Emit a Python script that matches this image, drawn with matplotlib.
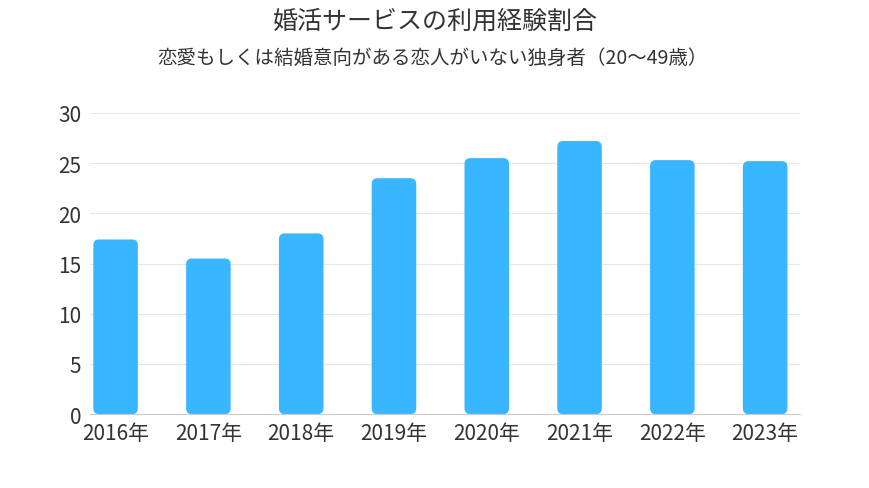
import matplotlib
matplotlib.use("Agg")
import matplotlib.pyplot as plt
from matplotlib.patches import FancyBboxPatch

plt.rcParams['font.family'] = ['Noto Sans CJK JP', 'DejaVu Sans']

years = ["2016年", "2017年", "2018年", "2019年", "2020年", "2021年", "2022年", "2023年"]
values = [17.4, 15.5, 18.0, 23.5, 25.5, 27.2, 25.3, 25.2]

fig = plt.figure(figsize=(8.7, 4.89), dpi=100)
ax = fig.add_axes([0.103, 0.151, 0.817, 0.616])
bars = ax.bar(range(len(years)), values, width=0.48, color="#38B6FF")
for b in bars:
    x, y, w, h = b.get_x(), b.get_y(), b.get_width(), b.get_height()
    b.set_visible(False)
    ax.add_patch(FancyBboxPatch((x, y), w, h, boxstyle="round,pad=0,rounding_size=0.06",
                                mutation_aspect=10, color="#38B6FF", lw=0))
ax.set_xlim(-0.28, 7.38)
ax.set_ylim(0, 30)
ax.set_yticks(range(0, 31, 5))
ax.set_xticks(range(len(years)))
ax.set_xticklabels(years)
ax.tick_params(axis='both', length=0, labelsize=15, colors="#333333", pad=6)
ax.grid(axis='y', color="#e6e6e6", lw=0.8)
ax.set_axisbelow(True)
for s in ["top", "right", "left"]:
    ax.spines[s].set_visible(False)
ax.spines["bottom"].set_color("#cccccc")
fig.text(0.5, 0.955, "婚活サービスの利用経験割合", ha="center", va="center", fontsize=18, color="#333333")
fig.text(0.497, 0.88, "恋愛もしくは結婚意向がある恋人がいない独身者（20〜49歳）", ha="center", va="center", fontsize=14, color="#333333")
fig.savefig("out.png", dpi=100, facecolor="white")
